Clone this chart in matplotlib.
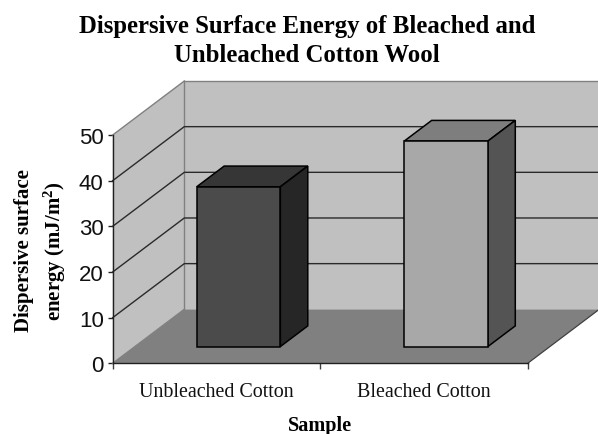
import matplotlib
matplotlib.use("Agg")
import matplotlib.pyplot as plt

categories = ["Unbleached Cotton", "Bleached Cotton"]
values = [35, 45]
y_ticks = [0, 10, 20, 30, 40, 50]
front_colors = ["#4b4b4b", "#a8a8a8"]
top_colors = ["#363636", "#7e7e7e"]
side_colors = ["#262626", "#545454"]

title = "Dispersive Surface Energy of Bleached and\nUnbleached Cotton Wool"

# depth of the fake 3D box, in data units
DEPTH_X = 71.6 / 207.5
DEPTH_Y = 54 / 45.66 * 10
BAR_LEFT = 0.405
BAR_W = 0.403
BAR_FRONT = 0.31
BAR_DEPTH = 0.383


def proj(x, v, d):
    return x + d * DEPTH_X, v + d * DEPTH_Y


def face(ax, corners, color, edge="none", lw=0.0, z=1):
    xs = [c[0] for c in corners]
    ys = [c[1] for c in corners]
    ax.fill(xs, ys, facecolor=color, edgecolor=edge, linewidth=lw,
            clip_on=False, zorder=z, joinstyle="miter")


def main() -> None:
    plt.rcParams["mathtext.fontset"] = "custom"
    plt.rcParams["mathtext.bf"] = "Liberation Serif:bold"
    plt.rcParams["mathtext.rm"] = "Liberation Serif:bold"

    fig = plt.figure(figsize=(5.98, 4.35), dpi=100)
    W, H = 598, 435
    ax = fig.add_axes([112.7 / W, 1 - 364.3 / H, 415 / W, 228.3 / H])
    ax.set_xlim(0, 2)
    ax.set_ylim(0, 50)
    ax.patch.set_visible(False)

    top = y_ticks[-1]
    # walls and floor
    face(ax, [proj(0, 0, 1), proj(2, 0, 1), proj(2, top, 1), proj(0, top, 1)], "#c0c0c0", z=1)
    face(ax, [proj(0, 0, 0), proj(0, 0, 1), proj(0, top, 1), proj(0, top, 0)], "#c0c0c0", z=1)
    face(ax, [proj(0, 0, 0), proj(2, 0, 0), proj(2, 0, 1), proj(0, 0, 1)], "#808080", z=1)

    # wall outlines
    for a, b in [
        (proj(0, 0, 1), proj(0, top, 1)),
        (proj(0, top, 1), proj(2, top, 1)),
        (proj(0, top, 0), proj(0, top, 1)),
        (proj(0, 0, 0), proj(0, 0, 1)),
    ]:
        ax.plot([a[0], b[0]], [a[1], b[1]], color="#808080", lw=1.0, clip_on=False, zorder=2)

    # gridlines
    for v in y_ticks[1:-1]:
        a, b, c = proj(0, v, 0), proj(0, v, 1), proj(2, v, 1)
        ax.plot([a[0], b[0], c[0]], [a[1], b[1], c[1]], color="#2a2a2a", lw=1.0,
                clip_on=False, zorder=2)

    # front lower right edge of the floor
    a, b = proj(2, 0, 0), proj(2, 0, 1)
    ax.plot([a[0], b[0]], [a[1], b[1]], color="#404040", lw=0.9, clip_on=False, zorder=2)

    # bars
    for i, v in enumerate(values):
        x0, y0 = proj(i + BAR_LEFT - BAR_FRONT * DEPTH_X, 0, BAR_FRONT)
        x1 = x0 + BAR_W
        y1 = y0 + v
        dx, dy = BAR_DEPTH * DEPTH_X, BAR_DEPTH * DEPTH_Y
        face(ax, [(x0, y1), (x1, y1), (x1 + dx, y1 + dy), (x0 + dx, y1 + dy)],
             top_colors[i], "black", 1.1, 3)
        face(ax, [(x1, y0), (x1 + dx, y0 + dy), (x1 + dx, y1 + dy), (x1, y1)],
             side_colors[i], "black", 1.1, 3)
        face(ax, [(x0, y0), (x1, y0), (x1, y1), (x0, y1)],
             front_colors[i], "black", 1.1, 4)

    # axes
    for s in ["top", "right"]:
        ax.spines[s].set_visible(False)
    for s in ["left", "bottom"]:
        ax.spines[s].set_color("#202020")
        ax.spines[s].set_linewidth(1.0)
        ax.spines[s].set_zorder(5)

    ax.set_yticks(y_ticks)
    ax.set_yticklabels([str(t) for t in y_ticks], fontsize=16, family="Liberation Sans", color="#111111")
    ax.tick_params(axis="y", length=3.5, width=1.0, pad=3, color="#202020")
    ax.set_xticks([0, 1, 2])
    ax.set_xticklabels([])
    ax.tick_params(axis="x", which="major", length=4, width=1.0, color="#404040")
    ax.set_xticks([0.5, 1.5], minor=True)
    ax.set_xticklabels(categories, minor=True, fontsize=14.4, family="Liberation Serif",
                       color="#111111")
    ax.tick_params(axis="x", which="minor", length=0, pad=13.3)

    fig.text(307 / W, 1 - 41 / H, title, ha="center", va="center", fontsize=17.8,
             family="Liberation Serif", fontweight="bold", linespacing=1.36)
    fig.text(320 / W, 1 - 426 / H, "Sample", ha="center", va="center", fontsize=14.6,
             family="Liberation Serif", fontweight="bold")
    fig.text(41 / W, 1 - 251 / H, "Dispersive surface\nenergy (mJ/m$\\mathbf{^2}$)", ha="center",
             va="center", rotation=90, fontsize=15, family="Liberation Serif",
             fontweight="bold", linespacing=1.4, multialignment="center")

    fig.savefig("out.png", dpi=100)
    plt.close(fig)


if __name__ == "__main__":
    main()
